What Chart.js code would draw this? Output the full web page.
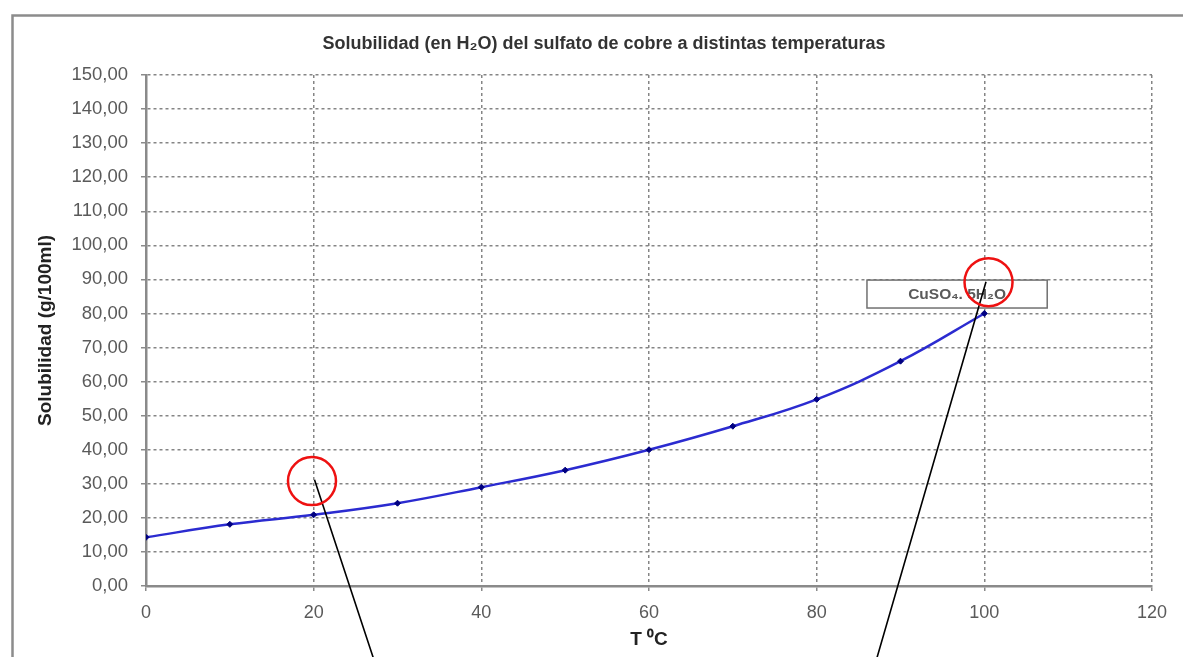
<!DOCTYPE html>
<html>
<head>
<meta charset="utf-8">
<script src="https://cdn.jsdelivr.net/npm/chart.js@4/dist/chart.umd.min.js"></script>
<style>
  html, body { margin: 0; padding: 0; background: #ffffff; }
  #wrap { width: 1183px; height: 657px; position: relative; }
</style>
</head>
<body>
<div id="wrap"><canvas id="c"></canvas></div>
<script>
// ---- Data ----
const temperatures = [0, 10, 20, 30, 40, 50, 60, 70, 80, 90, 100];
const solubility = [14.3, 18.1, 20.9, 24.3, 29.0, 34.0, 40.0, 46.9, 54.8, 66.0, 80.0];
const chartTitle = 'Solubilidad (en H\u2082O) del sulfato de cobre a distintas temperaturas';
const xAxisTitle = 'T \u2070C';
const yAxisTitle = 'Solubilidad (g/100ml)';
const seriesLabel = 'CuSO\u2084. 5H\u2082O';
const xRange = [0, 120];
const yRange = [0, 150];

const gridColor = '#858585';
const axisColor = '#8a8a8a';
const FONT = '"Liberation Sans", Arial, sans-serif';

// Frame, title, callout box, red circles and pointer lines (drawn through the scales)
const decorations = {
  id: 'decorations',
  beforeDraw(chart) {
    const ctx = chart.ctx;
    ctx.save();
    ctx.fillStyle = '#ffffff';
    ctx.fillRect(0, 0, chart.width, chart.height);
    ctx.strokeStyle = '#8c8c8c';
    ctx.lineWidth = 2.5;
    ctx.beginPath();
    ctx.moveTo(12.5, chart.height + 5);
    ctx.lineTo(12.5, 15.5);
    ctx.lineTo(chart.width + 5, 15.5);
    ctx.stroke();
    // chart title
    ctx.fillStyle = '#333333';
    ctx.font = 'bold 18px ' + FONT;
    ctx.textAlign = 'center';
    ctx.textBaseline = 'middle';
    const ca = chart.chartArea;
    ctx.fillText(chartTitle, (ca.left + ca.right) / 2 - 45, 44);
    ctx.restore();
  },
  afterDraw(chart) {
    const ctx = chart.ctx;
    const xs = chart.scales.x, ys = chart.scales.y;
    const px = v => xs.getPixelForValue(v);
    const py = v => ys.getPixelForValue(v);
    ctx.save();
    // label box
    const bx0 = px(86.0), bx1 = px(107.5), by0 = py(89.8), by1 = py(81.6);
    ctx.fillStyle = '#ffffff';
    ctx.fillRect(bx0, by0, bx1 - bx0, by1 - by0);
    ctx.strokeStyle = '#707070';
    ctx.lineWidth = 1.5;
    ctx.strokeRect(bx0, by0, bx1 - bx0, by1 - by0);
    ctx.fillStyle = '#5a5a5a';
    ctx.font = 'bold 15.5px ' + FONT;
    ctx.textAlign = 'center';
    ctx.textBaseline = 'middle';
    ctx.fillText(seriesLabel, (bx0 + bx1) / 2, (by0 + by1) / 2 + 1);
    // pointer lines
    ctx.strokeStyle = '#000000';
    ctx.lineWidth = 1.6;
    ctx.beginPath();
    ctx.moveTo(px(20.1), py(31.2));
    ctx.lineTo(px(27.1), py(-21));
    ctx.moveTo(px(100.2), py(89.3));
    ctx.lineTo(px(87.2), py(-21));
    ctx.stroke();
    // red circles
    ctx.strokeStyle = '#ee1111';
    ctx.lineWidth = 2.5;
    ctx.beginPath();
    ctx.arc(px(19.8), py(30.8), 24, 0, Math.PI * 2);
    ctx.stroke();
    ctx.beginPath();
    ctx.arc(px(100.5), py(89.2), 24, 0, Math.PI * 2);
    ctx.stroke();
    ctx.restore();
  }
};

const gridOpts = {
  color: gridColor,
  lineWidth: 1.5,
  tickLength: 5,
  tickColor: axisColor,
  tickWidth: 1.5,
  tickBorderDash: []
};

new Chart(document.getElementById('c'), {
  type: 'scatter',
  data: {
    datasets: [{
      label: seriesLabel,
      data: temperatures.map((t, i) => ({ x: t, y: solubility[i] })),
      showLine: true,
      borderColor: '#2b2bd0',
      borderWidth: 2.5,
      tension: 0.4,
      pointStyle: 'rectRot',
      pointRadius: 3,
      pointBackgroundColor: '#000080',
      pointBorderColor: '#000080',
      pointBorderWidth: 1
    }]
  },
  options: {
    responsive: true,
    maintainAspectRatio: false,
    animation: false,
    layout: { padding: { left: 0, right: 31, top: 75, bottom: 0 } },
    plugins: {
      legend: { display: false },
      tooltip: { enabled: false },
      title: { display: false }
    },
    scales: {
      x: {
        type: 'linear',
        min: xRange[0], max: xRange[1],
        ticks: {
          stepSize: 20,
          color: '#5a5a5a',
          padding: 11,
          font: { family: FONT, size: 18 }
        },
        grid: gridOpts,
        border: { display: true, color: axisColor, width: 2.5, dash: [3, 3] },
        title: {
          display: true,
          text: xAxisTitle,
          color: '#222222',
          font: { family: FONT, size: 19, weight: 'bold' },
          padding: { top: 0, bottom: 5.6 }
        },
        afterFit(scale) { scale.height = 71; }
      },
      y: {
        type: 'linear',
        min: yRange[0], max: yRange[1],
        ticks: {
          stepSize: 10,
          color: '#5a5a5a',
          padding: 13,
          font: { family: FONT, size: 18.5 },
          callback: v => v.toFixed(2).replace('.', ',')
        },
        grid: gridOpts,
        border: { display: true, color: axisColor, width: 2.5, dash: [3, 3] },
        title: {
          display: true,
          text: yAxisTitle,
          color: '#222222',
          font: { family: FONT, size: 19, weight: 'bold' },
          padding: { top: 34, bottom: 0 }
        },
        afterFit(scale) { scale.width = 146; }
      }
    }
  },
  plugins: [decorations]
});
</script>
</body>
</html>
